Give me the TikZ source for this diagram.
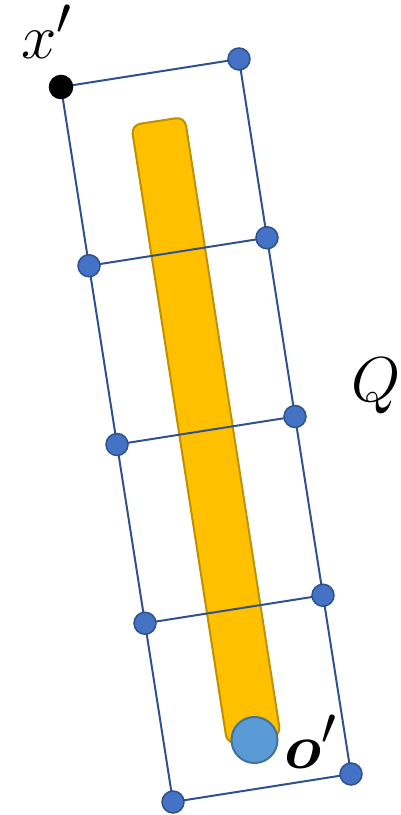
\documentclass[tikz,border=0pt]{standalone}
\usepackage{amsmath, amssymb}
\usepackage{tikz}
\usetikzlibrary{calc}

\begin{document}
\begin{tikzpicture}[x=1pt, y=-1pt]
% --- CORES HEX, GRADE INCLINADA E BARRA ---
\definecolor{grade}{HTML}{2F528F}
\definecolor{ponto}{HTML}{4472C4}
\definecolor{barra}{HTML}{FFC000}
\definecolor{barraB}{HTML}{BF9000}
\definecolor{origem}{HTML}{5B9BD5}
\definecolor{origemB}{HTML}{41719C}
\tikzset{
  linha/.style={draw=grade, line width=2pt},
  vertice/.style={circle, fill=ponto, draw=grade, line width=1.5pt, inner sep=0pt, minimum size=22pt},
  rotulo/.style={inner sep=0pt, font=\Huge, scale=2.55},
}
\useasboundingbox (0,0) rectangle (400,815);

% LAYER 1: Vertices da grade
\foreach \i in {0,...,4} {
  \coordinate (L\i) at ({61+28*\i}, {87+178.75*\i});
  \coordinate (R\i) at ({239+28*\i}, {59+178.75*\i});
}

% LAYER 2: Barra amarela
\draw[fill=barra, draw=barraB, line width=2pt, rounded corners=9pt]
  (131.3,125.1) -- (184.7,116.9) -- (280.7,735.9) -- (227.3,744.1) -- cycle;

% LAYER 3: Linhas da grade
\draw[linha] (L0) -- (L4) -- (R4) -- (R0) -- cycle;
\foreach \i in {1,2,3}
  \draw[linha] (L\i) -- (R\i);

% LAYER 4: Pontos
\foreach \i in {1,...,4}
  \node[vertice] (pL\i) at (L\i) {};
\foreach \i in {0,...,4}
  \node[vertice] (pR\i) at (R\i) {};
\node[vertice, fill=black, draw=black, minimum size=23pt] (pL0) at (L0) {};
\node[circle, fill=origem, draw=origemB, line width=2pt, inner sep=0pt, minimum size=46pt] (orig) at (254.5,740) {};

% LAYER 5: Rotulos
\node[rotulo, anchor=base west] (xl) at (21,58) {$x'$};
\node[rotulo, anchor=base west] (ql) at (351,401) {$Q'$};
\node[rotulo, anchor=base west] (ol) at (284,768) {$\boldsymbol{o}'$};
\end{tikzpicture}
\end{document}
